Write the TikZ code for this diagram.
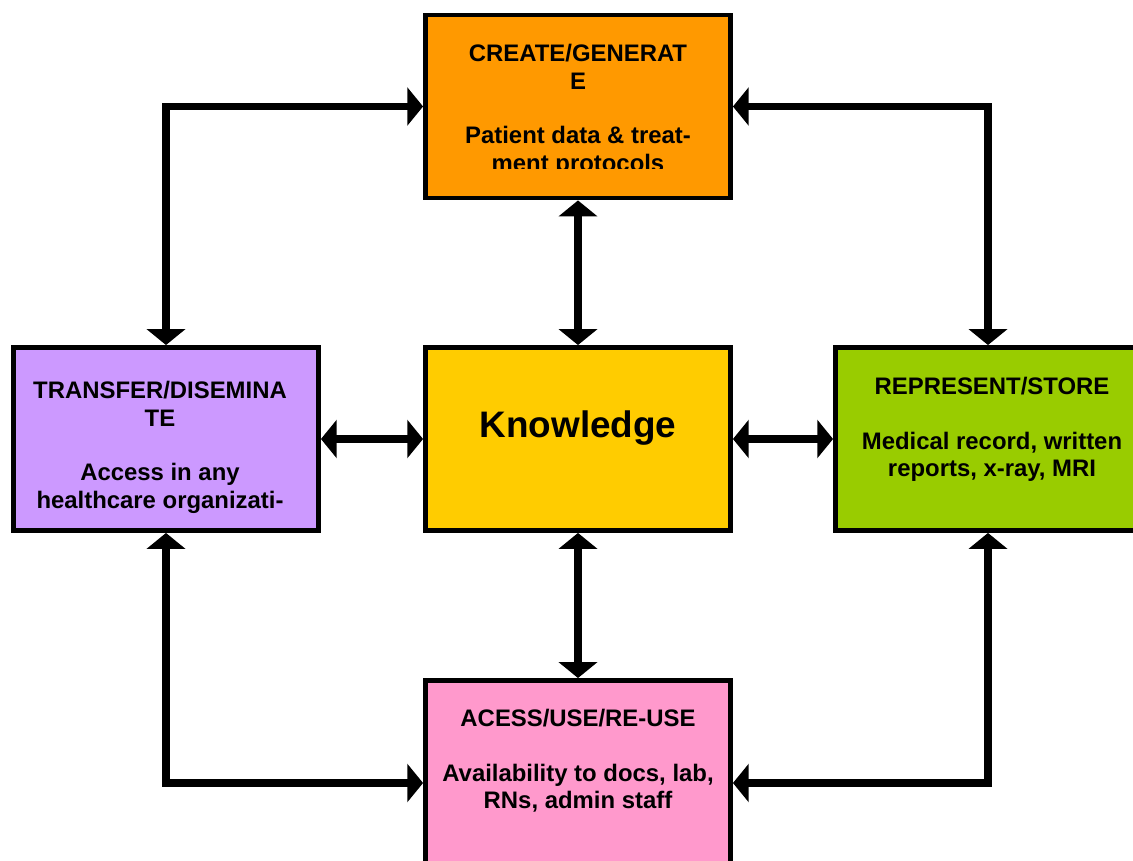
\documentclass[tikz,border=0pt]{standalone}
\usepackage{fontspec}
\setmainfont{Liberation Sans}
\usetikzlibrary{positioning}
\usetikzlibrary{arrows.meta}
\pgfdeclarelayer{background}
\pgfdeclarelayer{foreground}
\pgfsetlayers{background,main,foreground}
\definecolor{createorange}{HTML}{FF9900}
\definecolor{transferlilac}{HTML}{CC99FF}
\definecolor{knowyellow}{HTML}{FFCC00}
\definecolor{storegreen}{HTML}{99CC00}
\definecolor{accesspink}{HTML}{FF99CC}

\begin{document}
\begin{tikzpicture}[x=0.02cm, y=-0.02cm,
					stagebox/.style={rectangle, draw=black, line width=2.8pt, minimum width=6.1cm, minimum height=3.66cm, inner sep=0pt},
					stagetext/.style={font=\bfseries\fontsize{13.6}{15.6}\selectfont, align=center, inner sep=0pt, anchor=north},
					link/.style={line width=4.5pt, {Triangle[length=9pt,width=21.5pt]}-{Triangle[length=9pt,width=21.5pt]}},
					]
					\useasboundingbox (0,0) rectangle (1133,861);
					\clip (0,0) rectangle (1133,861);
					%Nodes
					\node[stagebox, fill=createorange]   (create)    at (578,106.5) {};
					\node[stagebox, fill=transferlilac]  (transfer)  at (166,439)   {};
					\node[stagebox, fill=knowyellow]     (know)      at (578,439)   {};
					\node[stagebox, fill=storegreen]     (represent) at (988,439)   {};
					\node[stagebox, fill=accesspink, minimum height=4.1cm] (access) at (578,783) {};
					
					%Texts
					\begin{scope}
						\clip (424,14) rectangle (731,169);
						\node[stagetext] (create-txt) at (578,44) {CREATE/GENERAT\\E\\[15.6pt]Patient data \& treat-\\ment protocols};
					\end{scope}
					\node[stagetext] (transfer-txt)  at (160,381) {TRANSFER/DISEMINA\\TE\\[15.6pt]Access in any\\healthcare organizati-};
					\node[stagetext] (represent-txt) at (992,377) {REPRESENT/STORE\\[15.6pt]Medical record, written\\reports, x-ray, MRI};
					\node[stagetext] (access-txt)    at (578,709) {ACESS/USE/RE-USE\\[15.6pt]Availability to docs, lab,\\RNs, admin staff};
					\node[font=\bfseries\fontsize{21}{25}\selectfont, inner sep=0pt, anchor=base] (know-txt) at (578,438) {Knowledge};
					
					\begin{pgfonlayer}{background}
					%Lines
					\draw[link] (transfer.north) |- (create.west);
					\draw[link] (create.east) -| (represent.north);
					\draw[link] (transfer.south) |- (access.west);
					\draw[link] (access.east) -| (represent.south);
					\draw[link] (transfer.east) -- (know.west);
					\draw[link] (know.east) -- (represent.west);
					\draw[link] (know.north) -- (create.south);
					\draw[link] (know.south) -- (access.north);
					\end{pgfonlayer}
				\end{tikzpicture}
\end{document}
